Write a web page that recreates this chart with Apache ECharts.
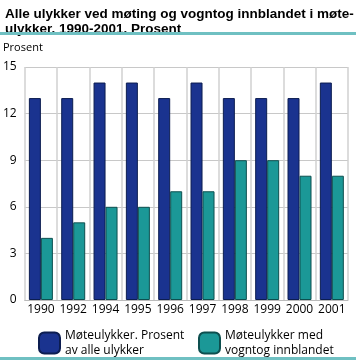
<!DOCTYPE html>
<html><head><meta charset="utf-8">
<script src="https://cdn.jsdelivr.net/npm/echarts@6/dist/echarts.min.js"></script>
<style>html,body{margin:0;padding:0;background:#fff}#c{width:356px;height:362px}</style>
</head><body><div id="c"></div>
<script>
const years = ['1990','1992','1994','1995','1996','1997','1998','1999','2000','2001'];
const moteulykker = [13,13,14,14,13,14,13,13,13,14];
const vogntog = [4,5,6,6,7,7,9,9,8,8];
const yTicks = [0,3,6,9,12,15];
const names = ['Møteulykker. Prosent\nav alle ulykker','Møteulykker med\nvogntog innblandet'];
const FONT = '"Open Sans", "Noto Sans", sans-serif';
const chart = echarts.init(document.getElementById('c'), null, {renderer:'canvas'});
chart.setOption({
  animation:false,
  textStyle:{fontFamily:FONT,color:'#000'},
  title:{text:'Alle ulykker ved møting og vogntog innblandet i møte-\nulykker. 1990-2001. Prosent',left:0,top:2,
    textStyle:{fontSize:13.5,fontWeight:'bold',color:'#000',fontFamily:'"Liberation Sans", Arial, sans-serif',lineHeight:15}},
  graphic:{elements:[
    {type:'rect',left:0,top:32,z:100,shape:{width:356,height:3},style:{fill:'#6fc0c2'}},
    {type:'rect',left:0,top:357,z:100,shape:{width:356,height:3},style:{fill:'#6fc0c2'}},
    {type:'text',left:3,top:42,style:{text:'Prosent',fontSize:11,fill:'#000',fontFamily:FONT}}
  ]},
  grid:{left:23,right:8,top:67,bottom:62,containLabel:false},
  xAxis:{type:'category',data:years,
    axisLine:{show:true,lineStyle:{color:'#bbb'}},axisTick:{show:false},
    axisLabel:{fontSize:12,color:'#000',margin:4,fontFamily:FONT,interval:0},
    splitLine:{show:true,interval:0,lineStyle:{color:'#d0d0d0',width:1.5}}},
  yAxis:{type:'value',min:0,max:15,interval:3,
    axisLine:{show:false},axisTick:{show:false},
    axisLabel:{fontSize:12,color:'#000',margin:8,fontFamily:FONT},
    splitLine:{lineStyle:{color:'#c8c8c8',width:1}}},
  legend:[
    {data:[names[0]],left:33,top:323,itemWidth:21,itemHeight:21,itemGap:0,orient:'vertical',
     textStyle:{fontSize:12,color:'#000',fontFamily:FONT,lineHeight:15},selectedMode:false},
    {data:[names[1]],left:193,top:323,itemWidth:21,itemHeight:21,itemGap:0,orient:'vertical',
     textStyle:{fontSize:12,color:'#000',fontFamily:FONT,lineHeight:15},selectedMode:false}
  ],
  series:[
    {name:names[0],type:'bar',data:moteulykker,barWidth:12,barGap:'0%',
     itemStyle:{color:'#1a338f',borderColor:'#0c1d50',borderWidth:1}},
    {name:names[1],type:'bar',data:vogntog,barWidth:12,barGap:'0%',
     itemStyle:{color:'#1b9897',borderColor:'#0d4f4f',borderWidth:1}}
  ]
});
</script></body></html>
